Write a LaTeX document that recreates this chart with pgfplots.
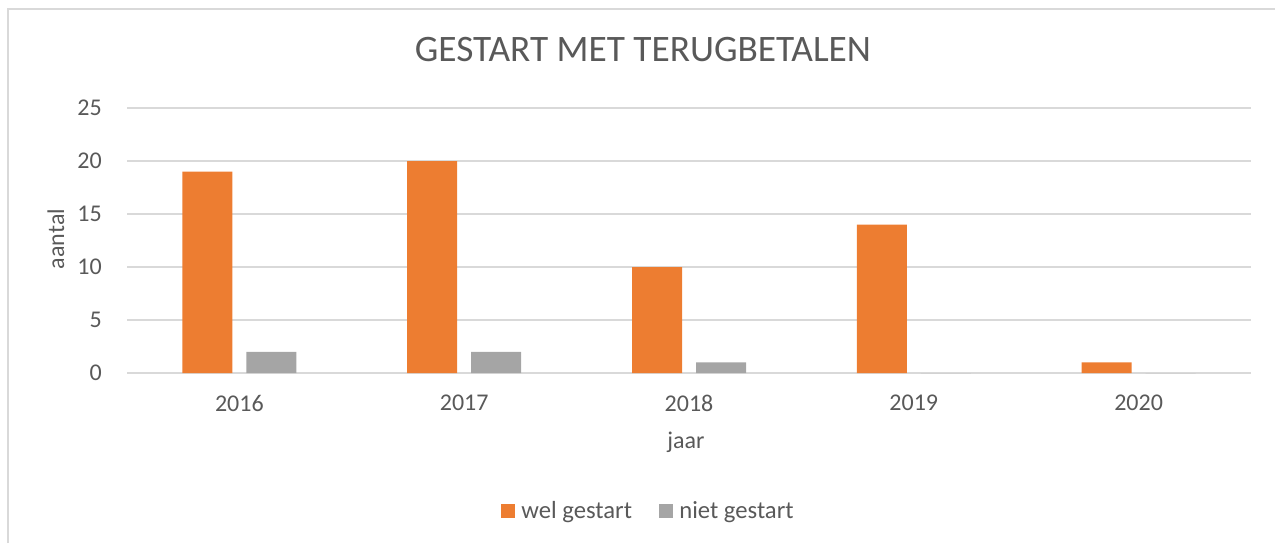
\documentclass[border=0pt]{standalone}
\usepackage{pgfplots}
\pgfplotsset{compat=1.18}
\usepackage{fontspec}
\setmainfont{Carlito}
\definecolor{orangeX}{HTML}{ED7D31}
\definecolor{greyX}{HTML}{A5A5A5}
\definecolor{txt}{HTML}{595959}
\definecolor{gridc}{HTML}{D9D9D9}
\begin{document}
\begin{tikzpicture}[x=0.75bp,y=0.75bp]
\useasboundingbox (0,0) rectangle (1275,543);
\draw[gridc, line width=1.5bp] (8,0) -- (8,534) -- (1275,534);
\begin{axis}[
  at={(95.25bp,127.5bp)}, anchor=south west,
  scale only axis, width=843bp, height=198.75bp,
  xmin=-0.5, xmax=4.5, ymin=0, ymax=25,
  xtick={0,1,2,3,4}, xticklabels={2016,2017,2018,2019,2020},
  ytick={0,5,10,15,20,25},
  /pgf/number format/assume math mode=true,
  axis x line*=bottom, axis y line*=left,
  axis line style={draw=none},
  major tick length=0pt,
  ymajorgrids, grid style={gridc, line width=1.1bp},
  ybar=10.5bp, bar width=37.5bp,
  tick label style={font=\fontsize{18bp}{20bp}\selectfont, text=txt},
  yticklabel style={anchor=east, inner sep=0pt, xshift=-18.75bp},
  xticklabel style={anchor=north, inner sep=0pt, yshift=-16.5bp},
  legend columns=2,
  legend style={at={(0.464,-0.521)}, anchor=center, draw=none, fill=none,
    font=\fontsize{18.5bp}{20bp}\selectfont, text=txt,
    /tikz/every even column/.append style={column sep=18bp},
    /tikz/every odd column/.append style={column sep=3bp},
    inner sep=0pt},
  legend image code/.code={\fill[#1] (0bp,-5.25bp) rectangle (10.5bp,5.25bp);},
]
\addplot[fill=orangeX, draw=none] coordinates {(0,19) (1,20) (2,10) (3,14) (4,1)};
\addplot[fill=greyX, draw=none] coordinates {(0,2) (1,2) (2,1) (3,0) (4,0)};
\legend{wel gestart, niet gestart}
\end{axis}
\node[anchor=base, font=\fontsize{28bp}{30bp}\selectfont, text=txt] at (643,543-61.7) {GESTART MET TERUGBETALEN};
\node[anchor=base, font=\fontsize{18bp}{20bp}\selectfont, text=txt] at (686,543-448) {jaar};
\node[anchor=base, rotate=90, font=\fontsize{18bp}{20bp}\selectfont, text=txt] at (64,543-239) {aantal};
\end{tikzpicture}
\end{document}
